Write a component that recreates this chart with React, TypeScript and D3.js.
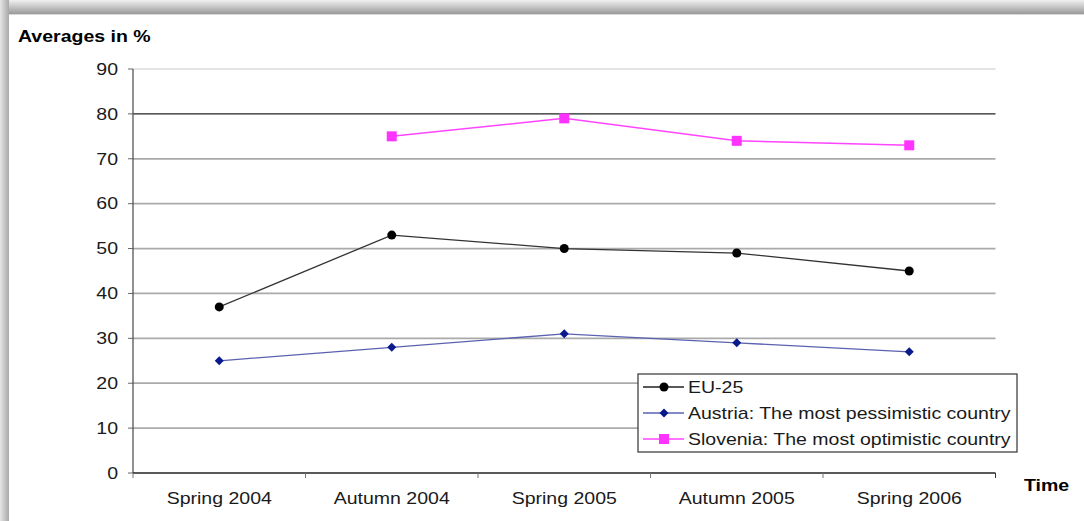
import React from "react";
import * as d3 from "d3";

const categories = ["Spring 2004", "Autumn 2004", "Spring 2005", "Autumn 2005", "Spring 2006"];
const euValues: (number | null)[] = [37, 53, 50, 49, 45];
const austriaValues: (number | null)[] = [25, 28, 31, 29, 27];
const sloveniaValues: (number | null)[] = [null, 75, 79, 74, 73];
const yTicks = [0, 10, 20, 30, 40, 50, 60, 70, 80, 90];
const legendLabels = ["EU-25", "Austria: The most pessimistic country", "Slovenia: The most optimistic country"];

const W = 1084;
const H = 521;
const left = 133;
const right = 995.5;
const top = 69;
const bottom = 473;
const FONT = "'Liberation Sans', Arial, sans-serif";
const STRETCH = 1.22;

// Text drawn with a slight horizontal stretch, anchored at (x, y)
function T({
  x,
  y,
  anchor = "start",
  bold = false,
  size = 16,
  dy,
  children,
}: {
  x: number;
  y: number;
  anchor?: string;
  bold?: boolean;
  size?: number;
  dy?: string;
  children: React.ReactNode;
}) {
  return (
    <text
      transform={`translate(${x},${y}) scale(${STRETCH},1)`}
      textAnchor={anchor}
      dy={dy}
      fontFamily={FONT}
      fontWeight={bold ? "bold" : "normal"}
      fontSize={size}
      fill={bold ? "#000" : "#1a1a1a"}
    >
      {children}
    </text>
  );
}

export default function App() {
  const x = d3.scaleBand<string>().domain(categories).range([left, right]).padding(0);
  const y = d3.scaleLinear().domain([0, 90]).range([bottom, top]);
  const cx = (c: string) => (x(c) as number) + x.bandwidth() / 2;

  const lineGen = d3
    .line<[string, number | null]>()
    .defined((d) => d[1] !== null)
    .x((d) => cx(d[0]))
    .y((d) => y(d[1] as number));

  const pairs = (vals: (number | null)[]) => categories.map((c, i) => [c, vals[i]] as [string, number | null]);

  const gridColor = (t: number) => (t === 80 ? "#222" : t === 90 ? "#e4e4e4" : "#aaa");

  const legendX = 638;
  const legendY = 374;
  const legendW = 379;
  const legendH = 78;
  const rowY = [387, 413, 439];

  const diamond = (px: number, py: number, r: number) =>
    `M${px},${py - r}L${px + r},${py}L${px},${py + r}L${px - r},${py}Z`;

  return (
    <svg width={W} height={H} style={{ position: "absolute", left: 0, top: 0, display: "block" }}>
      <defs>
        <linearGradient id="topShade" x1="0" y1="0" x2="0" y2="1">
          <stop offset="0" stopColor="#f0f0f0" />
          <stop offset="1" stopColor="#9a9a9a" />
        </linearGradient>
        <linearGradient id="leftShade" x1="0" y1="0" x2="1" y2="0">
          <stop offset="0" stopColor="#e6e6e6" />
          <stop offset="1" stopColor="#a8a8a8" />
        </linearGradient>
      </defs>
      <rect x={0} y={0} width={W} height={H} fill="#fff" />
      <rect x={0} y={0} width={W} height={14} fill="url(#topShade)" />
      <rect x={0} y={0} width={9} height={H} fill="url(#leftShade)" />
      <line x1={9} x2={W} y1={14.5} y2={14.5} stroke="#d8d8d8" strokeWidth={1} />

      <T x={18} y={42} bold>
        Averages in %
      </T>

      {/* horizontal gridlines and y ticks */}
      {yTicks.map((t) => (
        <g key={t}>
          {t > 0 && (
            <line x1={left} x2={right} y1={y(t)} y2={y(t)} stroke={gridColor(t)} strokeWidth={t === 80 ? 1.3 : 1.8} />
          )}
          <line x1={left - 5} x2={left} y1={y(t)} y2={y(t)} stroke="#666" strokeWidth={1} />
          <T x={left - 15} y={y(t)} dy="0.36em" anchor="end">
            {t}
          </T>
        </g>
      ))}

      {/* axes */}
      <line x1={left} x2={left} y1={top} y2={bottom} stroke="#555" strokeWidth={1.3} />
      <line x1={left} x2={right} y1={bottom} y2={bottom} stroke="#222" strokeWidth={1.3} />
      {categories.map((c) => (
        <line key={"t" + c} x1={x(c) as number} x2={x(c) as number} y1={bottom} y2={bottom + 5} stroke="#777" strokeWidth={1} />
      ))}
      <line x1={right} x2={right} y1={bottom} y2={bottom + 5} stroke="#333" strokeWidth={1} />
      {categories.map((c) => (
        <T key={"l" + c} x={cx(c)} y={504} anchor="middle">
          {c}
        </T>
      ))}
      <T x={1024} y={491} bold>
        Time
      </T>

      {/* series */}
      <path d={lineGen(pairs(euValues)) || ""} fill="none" stroke="#333" strokeWidth={1.3} />
      {euValues.map((v, i) =>
        v === null ? null : <circle key={"e" + i} cx={cx(categories[i])} cy={y(v)} r={4.5} fill="#000" />
      )}
      <path d={lineGen(pairs(austriaValues)) || ""} fill="none" stroke="#5a62b0" strokeWidth={1.3} />
      {austriaValues.map((v, i) =>
        v === null ? null : <path key={"a" + i} d={diamond(cx(categories[i]), y(v), 4.5)} fill="#0a1a8c" />
      )}
      <path d={lineGen(pairs(sloveniaValues)) || ""} fill="none" stroke="#ff44ff" strokeWidth={1.5} />
      {sloveniaValues.map((v, i) =>
        v === null ? null : (
          <rect key={"s" + i} x={cx(categories[i]) - 5} y={y(v) - 5} width={10} height={10} fill="#ff33ff" />
        )
      )}

      {/* legend */}
      <rect x={legendX} y={legendY} width={legendW} height={legendH} fill="#fff" stroke="#333" strokeWidth={1.2} />
      <line x1={643} x2={684} y1={rowY[0]} y2={rowY[0]} stroke="#222" strokeWidth={1.3} />
      <circle cx={664} cy={rowY[0]} r={4.5} fill="#000" />
      <line x1={643} x2={684} y1={rowY[1]} y2={rowY[1]} stroke="#5a62b0" strokeWidth={1.3} />
      <path d={diamond(664, rowY[1], 4.5)} fill="#0a1a8c" />
      <line x1={643} x2={684} y1={rowY[2]} y2={rowY[2]} stroke="#ff44ff" strokeWidth={1.5} />
      <rect x={659} y={rowY[2] - 5} width={10} height={10} fill="#ff33ff" />
      {legendLabels.map((l, i) => (
        <T key={l} x={688} y={rowY[i]} dy="0.36em">
          {l}
        </T>
      ))}
    </svg>
  );
}
